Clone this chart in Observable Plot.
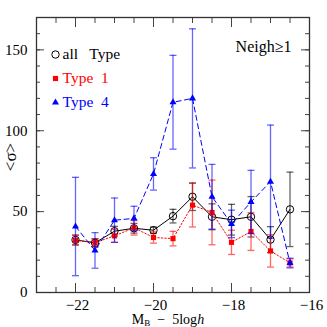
<!DOCTYPE html>
<html>
<head>
<meta charset="utf-8">
<script src="https://cdn.jsdelivr.net/npm/d3@7"></script>
<script src="https://cdn.jsdelivr.net/npm/@observablehq/plot@0.6"></script>
<style>
  html, body { margin: 0; padding: 0; background: white; }
  #chart svg { display: block; }
</style>
</head>
<body>
<div id="chart"></div>
<script>
// Magnitude bins (M_B - 5log h)
const mag = [-22, -21.5, -21, -20.5, -20, -19.5, -19, -18.5, -18, -17.5, -17, -16.5];
// all Type
const allVal = [32.5, 30.7, 37.9, 39.7, 38.5, 47.2, 59.2, 46.8, 45.0, 46.8, 32.7, 51.4];
const allErr = [3, 2.5, 3, 3, 2, 4.2, 8.5, 8, 9.5, 12.5, 8, 23];
// Type 1
const t1Val = [32.3, 30.8, 35.0, 40.0, 34.0, 33.3, 54.0, 49.5, 31.0, 37.7, 25.7, 18.3];
const t1Err = [3, 2.5, 4, 4.5, 3.5, 4.5, 13.5, 20, 7.5, 11.7, 10, 2.5];
// Type 4
const t4Val = [40.8, 26.0, 44.7, 45.8, 73.3, 117.6, 120.0, 59.2, 42.4, 56.0, 68.5, 18.2];
const t4Err = [30.4, 11, 13.7, 7.5, 10, 29, 43, 20, 8.5, 19.5, 35, 3];

const xMajor = [-22, -20, -18, -16];
const xMinor = d3.range(-23, -15.99, 0.5);
const yMajor = [0, 50, 100, 150];
const yMinor = d3.range(0, 171, 10);

const legendLabels = ["all\u00a0\u00a0 Type", "Type\u00a0 1", "Type\u00a0 4"];
const panelLabel = "Neigh\u22651";

const series = [
  {name: legendLabels[0], val: allVal, err: allErr, color: "black", symbol: "circle", fill: "none", dash: null, r: 3.7},
  {name: legendLabels[1], val: t1Val, err: t1Err, color: "#ff0000", symbol: "square", fill: "#ff0000", dash: "1.5,2", r: 2.9},
  {name: legendLabels[2], val: t4Val, err: t4Err, color: "#0000ff", symbol: "triangle", fill: "#0000ff", dash: "5,3.5", r: 2.6}
];

const capSymbol = { draw(ctx, size) { const r = Math.sqrt(size / Math.PI); ctx.moveTo(-r, 0); ctx.lineTo(r, 0); } };

const marks = [];
// axes: inward ticks on all four sides
const axStroke = "#444";
marks.push(
  Plot.axisX({anchor: "bottom", ticks: xMinor, tickSize: -5, text: null, label: null, stroke: axStroke}),
  Plot.axisX({anchor: "bottom", ticks: xMajor, tickSize: -9, text: null, label: null, stroke: axStroke}),
  Plot.axisX({anchor: "top", ticks: xMinor, tickSize: -5, text: null, label: null, stroke: axStroke}),
  Plot.axisX({anchor: "top", ticks: xMajor, tickSize: -9, text: null, label: null, stroke: axStroke}),
  Plot.axisY({anchor: "left", ticks: yMinor, tickSize: -4, text: null, label: null, stroke: axStroke}),
  Plot.axisY({anchor: "left", ticks: yMajor, tickSize: -8, text: null, label: null, stroke: axStroke}),
  Plot.axisY({anchor: "right", ticks: yMinor, tickSize: -5, text: null, label: null, stroke: axStroke}),
  Plot.axisY({anchor: "right", ticks: yMajor, tickSize: -9, text: null, label: null, stroke: axStroke}),
  Plot.axisX({anchor: "bottom", ticks: xMajor, tickSize: 0, tickPadding: 7, label: null, fontSize: 15, dx: 2, tickFormat: d => d3.format("")(d)}),
  Plot.axisY({anchor: "left", ticks: yMajor, tickSize: 0, tickPadding: 9, label: null, fontSize: 15}),
  Plot.frame({stroke: "#333", strokeWidth: 1.3})
);

series.forEach((s, k) => {
  const rows = mag.map((m, i) => ({m, v: s.val[i], lo: s.val[i] - s.err[i], hi: s.val[i] + s.err[i]}));
  marks.push(
    Plot.ruleX(rows, {x: "m", y1: "lo", y2: "hi", stroke: s.color, strokeOpacity: 0.6, strokeWidth: 1.3}),
    Plot.dot(rows, {x: "m", y: "lo", symbol: capSymbol, r: 3.5, stroke: s.color, strokeOpacity: 0.6, strokeWidth: 1.3}),
    Plot.dot(rows, {x: "m", y: "hi", symbol: capSymbol, r: 3.5, stroke: s.color, strokeOpacity: 0.6, strokeWidth: 1.3}),
    Plot.line(rows, {x: "m", y: "v", stroke: s.color, strokeWidth: 1, strokeDasharray: s.dash}),
    Plot.dot(rows, {x: "m", y: "v", symbol: s.symbol, r: s.r,
      fill: s.fill, stroke: s.symbol === "circle" ? s.color : "none", strokeWidth: 1})
  );
  // legend entry
  marks.push(
    Plot.dot([s.name], {frameAnchor: "top-left", dx: 19, dy: 37 + k * 24, symbol: s.symbol,
      r: s.r, fill: s.fill, stroke: s.symbol === "circle" ? s.color : "none", strokeWidth: 1}),
    Plot.text([s.name], {frameAnchor: "top-left", dx: 26, dy: 37 + k * 24, text: d => d,
      textAnchor: "start", lineAnchor: "middle", fill: s.color, fontSize: 15.5})
  );
});

marks.push(Plot.text([panelLabel], {frameAnchor: "top-right", dx: -18, dy: 29, text: d => d,
  textAnchor: "end", lineAnchor: "middle", fontSize: 16}));

const plot = Plot.plot({
  width: 327, height: 327,
  marginLeft: 36, marginRight: 18, marginTop: 17, marginBottom: 35,
  x: {domain: [-23, -16]},
  y: {domain: [0, 170]},
  style: {fontFamily: "'Liberation Serif', 'Times New Roman', serif", fontSize: "15px", background: "white", color: "black"},
  marks
});

const svg = d3.select(plot);
// x-axis title with subscript and italic h
const xt = svg.append("text")
  .attr("x", 168).attr("y", 324)
  .attr("text-anchor", "middle")
  .attr("font-size", 14).attr("fill", "black")
  .style("white-space", "pre");
xt.append("tspan").text("M");
xt.append("tspan").attr("font-size", 9).attr("dy", 2).text("B");
xt.append("tspan").attr("dy", -2).text("  \u2212  5log");
xt.append("tspan").attr("font-style", "italic").text("h");
// y-axis title
svg.append("text")
  .attr("transform", "translate(16,157) rotate(-90)")
  .attr("text-anchor", "middle")
  .attr("font-size", 17).attr("fill", "black")
  .text("<\u03c3>");

document.getElementById("chart").appendChild(plot);
</script>
</body>
</html>
